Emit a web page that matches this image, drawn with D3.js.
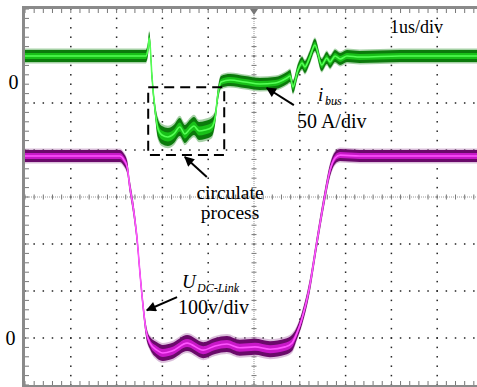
<!DOCTYPE html>
<html>
<head>
<meta charset="utf-8">
<script src="https://cdn.jsdelivr.net/npm/d3@7"></script>
<style>
body{margin:0;background:#fff}
text{font-family:"Liberation Serif","Times New Roman",serif;fill:#000}
</style>
</head>
<body>
<div id="scope"></div>
<script>
// bus current trace (time in us, current in A, 50A/div)
var ibusTime = [0, 2.64, 2.69, 2.71, 2.73, 2.77, 2.84, 2.90, 2.99, 3.12, 3.25, 3.38, 3.49, 3.60, 3.69, 3.80, 3.93, 4.08, 4.15, 4.21, 4.28, 4.48, 4.80, 5.13, 5.46, 5.72, 5.79, 5.85, 5.96, 6.05, 6.11, 6.22, 6.33, 6.48, 6.59, 6.66, 6.77, 6.88, 7.03, 7.31, 8.19, 9.87];
var ibusAmp = [27.7, 27.7, 37.2, 46.8, 40.4, 7.4, -29.8, -48.9, -56.4, -58.5, -55.3, -47.9, -55.3, -50.0, -46.8, -52.1, -51.1, -47.9, -38.3, -13.8, 0, 2.1, 0, -2.1, -1.1, 4.3, 6.4, -5.3, 12.8, 20.2, 16.0, 26.6, 39.4, 18.1, 25.5, 21.3, 27.7, 24.5, 27.7, 26.6, 27.7, 27.7];

// DC link voltage trace (time in us, voltage in V, 100V/div)
var udcTime = [0, 2.07, 2.16, 2.23, 2.29, 2.36, 2.45, 2.51, 2.58, 2.64, 2.73, 2.88, 3.01, 3.21, 3.54, 3.89, 4.15, 4.41, 4.69, 5.02, 5.35, 5.68, 5.83, 5.94, 6.05, 6.20, 6.38, 6.55, 6.66, 6.77, 6.88, 7.31, 9.87];
var udcVolt = [385, 385, 377, 362, 319, 277, 206, 136, 64, 15, -13, -28, -34, -30, -13, -28, -19, -15, -23, -21, -26, -21, -13, 9, 40, 100, 206, 302, 355, 381, 387, 385, 385];

var divsX = 10, divsY = 8, minorPerDiv = 5;

var W = 477, H = 387;
var svg = d3.select("#scope").append("svg")
	.attr("width", W)
	.attr("height", H);

var x = d3.scaleLinear().domain([0, divsX]).range([25, 483]);
var gy = d3.scaleLinear().domain([0, divsY]).range([9, 385]);
var yI = d3.scaleLinear().domain([0, 50]).range([82, 35]);
var yU = d3.scaleLinear().domain([0, 100]).range([337, 290]);

//grid dots
var grid = svg.append("g");
var dots = [];
d3.range(1, divsX).forEach(function(i){
	if(i == divsX / 2) return;
	d3.range(0, divsY * minorPerDiv + 1).forEach(function(j){
		dots.push([x(i), gy(j / minorPerDiv)]);
	});
});
d3.range(1, divsY).forEach(function(j){
	if(j == divsY / 2) return;
	d3.range(0, divsX * minorPerDiv + 1).forEach(function(i){
		dots.push([x(i / minorPerDiv), gy(j)]);
	});
});
grid.selectAll("rect.dot")
	.data(dots)
	.enter()
	.append("rect")
	.attr("class", "dot")
	.attr("x", function(d){ return d[0] - 0.75; })
	.attr("y", function(d){ return d[1] - 0.75; })
	.attr("width", 1.5)
	.attr("height", 1.5)
	.style("fill", "#222");

//center cross with minor ticks
grid.append("line")
	.attr("x1", x(0)).attr("x2", W)
	.attr("y1", gy(4)).attr("y2", gy(4))
	.style("stroke", "#999").style("stroke-width", 1).style("stroke-dasharray", "1,1");
grid.append("line")
	.attr("x1", x(5)).attr("x2", x(5))
	.attr("y1", gy(0)).attr("y2", gy(8))
	.style("stroke", "#999").style("stroke-width", 1).style("stroke-dasharray", "1,1");

var ticksX = d3.range(0, divsX * minorPerDiv + 1).map(function(i){ return i / minorPerDiv; });
var ticksY = d3.range(0, divsY * minorPerDiv + 1).map(function(j){ return j / minorPerDiv; });

grid.selectAll("line.tx")
	.data(ticksX)
	.enter()
	.append("line")
	.attr("class", "tx")
	.attr("x1", function(d){ return x(d); })
	.attr("x2", function(d){ return x(d); })
	.attr("y1", gy(4) - 2.5)
	.attr("y2", gy(4) + 2.5)
	.style("stroke", "#777").style("stroke-width", 1);
grid.selectAll("line.ty")
	.data(ticksY)
	.enter()
	.append("line")
	.attr("class", "ty")
	.attr("x1", x(5) - 2.5)
	.attr("x2", x(5) + 2.5)
	.attr("y1", function(d){ return gy(d); })
	.attr("y2", function(d){ return gy(d); })
	.style("stroke", "#777").style("stroke-width", 1);

//border ticks
grid.selectAll("line.bl")
	.data(ticksY)
	.enter()
	.append("line")
	.attr("x1", x(0)).attr("x2", x(0) + 4)
	.attr("y1", function(d){ return gy(d); })
	.attr("y2", function(d){ return gy(d); })
	.style("stroke", "#777").style("stroke-width", 1);
grid.selectAll("line.bt")
	.data(ticksX)
	.enter()
	.append("line")
	.attr("x1", function(d){ return x(d); })
	.attr("x2", function(d){ return x(d); })
	.attr("y1", gy(0)).attr("y2", gy(0) + 4)
	.style("stroke", "#777").style("stroke-width", 1);
grid.selectAll("line.bb")
	.data(ticksX)
	.enter()
	.append("line")
	.attr("x1", function(d){ return x(d); })
	.attr("x2", function(d){ return x(d); })
	.attr("y1", gy(8) - 4).attr("y2", gy(8))
	.style("stroke", "#777").style("stroke-width", 1);

//frame
grid.append("line").attr("x1", x(0) - 1.5).attr("x2", x(0) - 1.5).attr("y1", gy(0) - 3).attr("y2", H)
	.style("stroke", "#8a8a8a").style("stroke-width", 3);
grid.append("line").attr("x1", x(0) - 3).attr("x2", W).attr("y1", gy(0) - 1.5).attr("y2", gy(0) - 1.5)
	.style("stroke", "#8a8a8a").style("stroke-width", 3);
grid.append("line").attr("x1", x(0) - 3).attr("x2", W).attr("y1", gy(8) + 1).attr("y2", gy(8) + 1)
	.style("stroke", "#8a8a8a").style("stroke-width", 2);
grid.append("path")
	.attr("d", "M" + (x(5) - 4) + "," + gy(0) + "L" + (x(5) + 4) + "," + gy(0) + "L" + x(5) + "," + (gy(0) + 6) + "Z")
	.style("fill", "#777");

//traces: fuzzy band + bright core
var drawTrace = function(times, vals, yScale, halfW, colors){
	var pts = times.map(function(t, i){ return {t: t, v: vals[i], h: halfW(t)}; });
	var g = svg.append("g");
	var band = function(k){
		return d3.area()
			.x(function(d){ return x(d.t); })
			.y0(function(d){ return yScale(d.v) + d.h * k; })
			.y1(function(d){ return yScale(d.v) - d.h * k; })
			.curve(d3.curveMonotoneX);
	};
	g.append("path").attr("d", band(1.25)(pts)).style("fill", colors[0]).style("opacity", 0.45);
	g.append("path").attr("d", band(1)(pts)).style("fill", colors[1]);
	g.append("path").attr("d", band(0.5)(pts)).style("fill", colors[2]);
	g.append("path")
		.attr("d", d3.line()
			.x(function(d){ return x(d.t); })
			.y(function(d){ return yScale(d.v); })
			.curve(d3.curveMonotoneX)(pts))
		.style("fill", "none")
		.style("stroke", colors[3])
		.style("stroke-width", 1.6);
};

drawTrace(ibusTime, ibusAmp, yI, function(t){ return (t > 2.85 && t < 4.15) ? 9 : 6; },
	["#3a9a3a", "#0c7a0c", "#18c018", "#55ff55"]);
drawTrace(udcTime, udcVolt, yU, function(t){ return (t > 2.75 && t < 5.9) ? 8 : 6; },
	["#b070b0", "#6a0a6a", "#c818c8", "#ff55ff"]);

//annotations
var defs = svg.append("defs");
defs.append("marker")
	.attr("id", "arrow")
	.attr("viewBox", "0 0 10 10")
	.attr("refX", 9).attr("refY", 5)
	.attr("markerUnits", "userSpaceOnUse")
	.attr("markerWidth", 12).attr("markerHeight", 10)
	.attr("orient", "auto")
	.append("path")
	.attr("d", "M0,0L10,5L0,10Z")
	.style("fill", "#000");

var arrow = function(x1, y1, x2, y2){
	svg.append("line")
		.attr("x1", x1).attr("y1", y1).attr("x2", x2).attr("y2", y2)
		.attr("marker-end", "url(#arrow)")
		.style("stroke", "#000").style("stroke-width", 2);
};

svg.append("rect")
	.attr("x", x(2.69)).attr("y", yI(-5.7))
	.attr("width", x(4.35) - x(2.69))
	.attr("height", yI(-77.7) - yI(-5.7))
	.style("fill", "none").style("stroke", "#000").style("stroke-width", 2)
	.style("stroke-dasharray", "10,6");

arrow(x(3.97), yI(-101), x(3.49), yI(-79.8));
arrow(x(5.87), yI(-24.5), x(5.28), yI(-6.4));
arrow(x(3.32), yU(85), x(2.66), yU(57));

var label = function(tx, ty, str, size, opts){
	opts = opts || {};
	return svg.append("text")
		.attr("x", tx).attr("y", ty)
		.attr("text-anchor", opts.anchor || "start")
		.style("font-size", size + "px")
		.style("font-style", opts.italic ? "italic" : "normal")
		.text(str);
};

label(13.5, 89, "0", 20, {anchor: "middle"});
label(10.5, 345, "0", 20, {anchor: "middle"});
label(390, 33, "1us/div", 18);
label(318, 101, "i", 19, {italic: true});
label(325, 104.5, "bus", 12, {italic: true});
label(297, 128, "50 A/div", 20);
label(230, 199, "circulate", 19.5, {anchor: "middle"});
label(230, 219, "process", 19.5, {anchor: "middle"});
label(182, 288, "U", 19, {italic: true});
label(197, 292, "DC-Link", 12, {italic: true});
label(178, 314, "100v/div", 20);
</script>
</body>
</html>
